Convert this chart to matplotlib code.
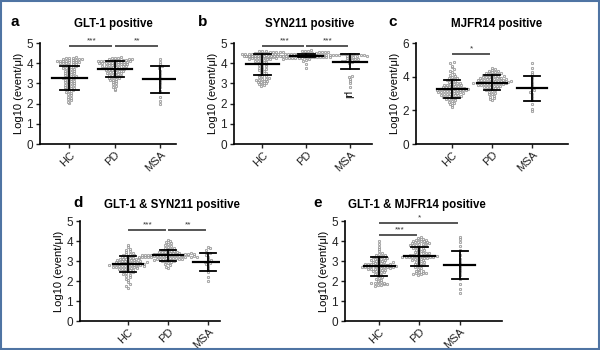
import numpy as np
import matplotlib
matplotlib.use('Agg')
import matplotlib.pyplot as plt
from matplotlib.patches import Rectangle

plt.rcParams['font.family'] = ['Liberation Sans', 'DejaVu Sans']

grupos = ['HC', 'PD', 'MSA']

# ---- datos (Log10 event/μl) ----
hc_a = [2.05, 2.1, 2.18, 2.22, 2.3, 2.35, 2.42, 2.48, 2.52, 2.58,
        2.62, 2.65, 2.7, 2.72, 2.75, 2.78, 2.8, 2.84, 2.88, 2.9,
        2.93, 2.96, 3.0, 3.02, 3.05, 3.08, 3.1, 3.13, 3.16, 3.2,
        3.22, 3.25, 3.28, 3.3, 3.32, 3.35, 3.38, 3.4, 3.43, 3.46,
        3.5, 3.52, 3.55, 3.58, 3.6, 3.63, 3.66, 3.7, 3.72, 3.75,
        3.78, 3.8, 3.83, 3.86, 3.88, 3.9, 3.92, 3.95, 3.97, 4.0,
        4.0, 4.02, 4.04, 4.05, 4.07, 4.08, 4.1, 4.1, 4.12, 4.13,
        4.15, 4.16, 4.18, 4.2, 4.2, 4.22, 4.24, 4.25, 4.28, 4.3]
pd_a = [2.65, 2.72, 2.8, 2.88, 2.95, 3.0, 3.05, 3.1, 3.15, 3.18,
        3.22, 3.25, 3.28, 3.3, 3.32, 3.35, 3.38, 3.4, 3.42, 3.45,
        3.47, 3.5, 3.52, 3.54, 3.56, 3.58, 3.6, 3.62, 3.64, 3.65,
        3.67, 3.68, 3.7, 3.72, 3.73, 3.75, 3.76, 3.78, 3.8, 3.81,
        3.83, 3.84, 3.86, 3.87, 3.88, 3.9, 3.91, 3.92, 3.94, 3.95,
        3.96, 3.98, 3.99, 4.0, 4.01, 4.02, 4.03, 4.04, 4.05, 4.06,
        4.07, 4.08, 4.09, 4.1, 4.1, 4.11, 4.12, 4.13, 4.14, 4.15,
        4.16, 4.17, 4.18, 4.2, 4.21, 4.22, 4.24, 4.26, 4.28, 4.3]
msa_a = [2.0, 2.15, 2.35, 2.6, 2.8, 2.95, 3.05, 3.15, 3.3, 3.45,
         3.6, 3.75, 3.85, 3.95, 4.05, 4.2]

hc_b = [2.85, 2.9, 2.95, 3.0, 3.02, 3.05, 3.08, 3.1, 3.12, 3.15,
        3.18, 3.2, 3.22, 3.25, 3.3, 3.35, 3.4, 3.45, 3.5, 3.55,
        3.6, 3.65, 3.7, 3.75, 3.8, 3.85, 3.9, 3.95, 4.0, 4.05,
        4.08, 4.1, 4.12, 4.15, 4.18, 4.2, 4.22, 4.24, 4.25, 4.27,
        4.28, 4.3, 4.31, 4.32, 4.33, 4.35, 4.36, 4.37, 4.38, 4.4,
        4.4, 4.41, 4.42, 4.43, 4.44, 4.45, 4.45, 4.46, 4.47, 4.48,
        4.48, 4.49, 4.5, 4.5, 4.51, 4.52, 4.53, 4.54, 4.55, 4.56,
        4.57, 4.58, 4.59, 4.6, 4.35, 4.28, 4.2, 3.98, 3.72, 3.35]
pd_b = [3.75, 3.95, 4.1, 4.15, 4.2, 4.22, 4.24, 4.25, 4.26, 4.27,
        4.28, 4.28, 4.29, 4.3, 4.3, 4.31, 4.31, 4.32, 4.32, 4.33,
        4.33, 4.34, 4.34, 4.35, 4.35, 4.35, 4.36, 4.36, 4.36, 4.37,
        4.37, 4.37, 4.38, 4.38, 4.38, 4.38, 4.39, 4.39, 4.39, 4.4,
        4.4, 4.4, 4.4, 4.41, 4.41, 4.41, 4.42, 4.42, 4.42, 4.43,
        4.43, 4.43, 4.44, 4.44, 4.45, 4.45, 4.45, 4.46, 4.46, 4.47,
        4.47, 4.48, 4.48, 4.49, 4.5, 4.5, 4.51, 4.52, 4.53, 4.54,
        4.55, 4.56, 4.58, 4.6, 4.62, 4.65, 4.34, 4.39, 4.41, 4.36]
msa_b = [2.8, 3.0, 3.1, 3.2, 3.3, 3.35, 4.0, 4.05, 4.1, 4.1,
         4.15, 4.15, 4.2, 4.2, 4.25, 4.25, 4.3, 4.35, 4.4, 4.45]

hc_c = [2.2, 2.3, 2.38, 2.45, 2.5, 2.55, 2.6, 2.65, 2.7, 2.72,
        2.75, 2.78, 2.8, 2.82, 2.85, 2.87, 2.9, 2.92, 2.94, 2.96,
        2.98, 3.0, 3.02, 3.04, 3.06, 3.08, 3.1, 3.12, 3.14, 3.15,
        3.16, 3.18, 3.2, 3.2, 3.22, 3.24, 3.25, 3.26, 3.28, 3.3,
        3.3, 3.32, 3.34, 3.35, 3.36, 3.38, 3.4, 3.42, 3.44, 3.46,
        3.48, 3.5, 3.52, 3.55, 3.58, 3.6, 3.63, 3.66, 3.7, 3.74,
        3.78, 3.82, 3.86, 3.9, 3.95, 4.0, 4.05, 4.1, 4.18, 4.25,
        4.35, 4.45, 4.55, 4.65, 4.8, 4.9, 3.18, 3.28, 3.05, 2.88]
pd_c = [2.6, 2.68, 2.75, 2.82, 2.88, 2.95, 3.0, 3.05, 3.1, 3.14,
        3.18, 3.22, 3.25, 3.28, 3.3, 3.33, 3.36, 3.38, 3.4, 3.42,
        3.45, 3.47, 3.5, 3.52, 3.54, 3.56, 3.58, 3.6, 3.62, 3.63,
        3.64, 3.65, 3.66, 3.67, 3.68, 3.7, 3.71, 3.72, 3.74, 3.75,
        3.76, 3.78, 3.8, 3.82, 3.84, 3.86, 3.88, 3.9, 3.92, 3.94,
        3.96, 3.98, 4.0, 4.02, 4.04, 4.06, 4.08, 4.1, 4.12, 4.14,
        4.16, 4.18, 4.2, 4.22, 4.25, 4.28, 4.3, 4.33, 4.36, 4.4,
        4.45, 4.5, 3.55, 3.6, 3.7, 3.73, 3.79, 3.85, 3.95, 4.05]
msa_c = [1.95, 2.1, 2.4, 2.6, 2.8, 2.95, 3.1, 3.2, 3.3, 3.45,
         3.55, 3.7, 3.85, 4.0, 4.15, 4.3, 4.5, 4.8]

hc_d = [1.65, 1.75, 1.85, 1.95, 2.05, 2.12, 2.18, 2.24, 2.3, 2.35,
        2.4, 2.43, 2.46, 2.5, 2.52, 2.55, 2.58, 2.6, 2.62, 2.64,
        2.66, 2.68, 2.7, 2.72, 2.74, 2.75, 2.77, 2.79, 2.8, 2.82,
        2.83, 2.85, 2.86, 2.88, 2.89, 2.9, 2.92, 2.93, 2.95, 2.96,
        2.98, 3.0, 3.01, 3.03, 3.05, 3.06, 3.08, 3.1, 3.12, 3.14,
        3.16, 3.18, 3.2, 3.22, 3.25, 3.28, 3.3, 3.33, 3.36, 3.4,
        3.45, 3.5, 3.55, 3.6, 3.7, 3.8, 2.87, 2.91, 2.84, 2.78,
        2.71, 2.97, 3.02, 2.65, 2.57, 3.09, 2.94, 2.81, 2.76, 3.15]
pd_d = [2.65, 2.72, 2.78, 2.84, 2.9, 2.94, 2.98, 3.0, 3.03, 3.05,
        3.07, 3.09, 3.1, 3.12, 3.14, 3.15, 3.16, 3.18, 3.19, 3.2,
        3.21, 3.22, 3.23, 3.24, 3.25, 3.26, 3.27, 3.28, 3.28, 3.29,
        3.3, 3.3, 3.31, 3.32, 3.33, 3.34, 3.35, 3.36, 3.37, 3.38,
        3.39, 3.4, 3.42, 3.43, 3.45, 3.46, 3.48, 3.5, 3.52, 3.54,
        3.56, 3.58, 3.6, 3.63, 3.66, 3.7, 3.75, 3.8, 3.85, 3.9,
        3.95, 4.0, 4.05, 3.26, 3.24, 3.22, 3.31, 3.33, 3.29, 3.18,
        3.13, 3.35, 3.41, 3.08, 3.02, 3.44, 3.27, 3.2, 3.36, 3.11]
msa_d = [2.0, 2.2, 2.45, 2.55, 2.65, 2.75, 2.85, 2.9, 2.95, 3.0,
         3.05, 3.1, 3.2, 3.3, 3.4, 3.55, 3.65, 3.7]

hc_e = [1.75, 1.78, 1.82, 1.85, 1.88, 1.9, 1.93, 1.96, 2.0, 2.05,
        2.1, 2.15, 2.2, 2.25, 2.3, 2.35, 2.4, 2.44, 2.48, 2.5,
        2.52, 2.55, 2.58, 2.6, 2.62, 2.64, 2.66, 2.68, 2.7, 2.7,
        2.72, 2.73, 2.75, 2.76, 2.78, 2.8, 2.81, 2.83, 2.85, 2.86,
        2.88, 2.9, 2.92, 2.94, 2.96, 2.98, 3.0, 3.02, 3.04, 3.06,
        3.08, 3.1, 3.12, 3.14, 3.16, 3.18, 3.2, 3.22, 3.25, 3.28,
        3.3, 3.35, 3.4, 3.5, 3.6, 3.7, 3.85, 4.0, 2.74, 2.71,
        2.77, 2.69, 2.82, 2.65, 2.57, 2.87, 2.93, 2.46, 1.92, 1.86]
pd_e = [2.3, 2.35, 2.4, 2.45, 2.5, 2.55, 2.6, 2.65, 2.7, 2.75,
        2.78, 2.8, 2.83, 2.86, 2.9, 2.93, 2.96, 3.0, 3.03, 3.06,
        3.08, 3.1, 3.12, 3.14, 3.16, 3.18, 3.2, 3.21, 3.22, 3.23,
        3.24, 3.25, 3.26, 3.28, 3.3, 3.32, 3.34, 3.36, 3.38, 3.4,
        3.42, 3.45, 3.48, 3.5, 3.53, 3.56, 3.6, 3.63, 3.66, 3.7,
        3.72, 3.74, 3.76, 3.78, 3.8, 3.82, 3.84, 3.86, 3.88, 3.9,
        3.92, 3.94, 3.96, 3.98, 4.0, 4.02, 4.05, 4.08, 4.1, 4.15,
        4.2, 3.22, 3.19, 3.27, 2.38, 2.42, 2.33, 2.52, 3.97, 4.03]
msa_e = [1.4, 1.6, 1.85, 2.1, 2.3, 2.45, 2.55, 2.65, 2.75, 2.85,
         2.95, 3.1, 3.3, 3.55, 3.75, 3.95, 4.1, 4.2]

media_a, de_a = [3.28, 3.70, 3.20], [0.60, 0.40, 0.66]
media_b, de_b = [3.95, 4.38, 4.08], [0.52, 0.08, 0.39]
media_c, de_c = [3.27, 3.65, 3.30], [0.55, 0.43, 0.72]
media_d, de_d = [2.85, 3.28, 2.95], [0.40, 0.28, 0.43]
media_e, de_e = [2.73, 3.23, 2.78], [0.46, 0.47, 0.70]

# comparaciones: (grupo1, grupo2, altura, estrellas)
sig_a = [(0, 1, 4.85, '***'), (1, 2, 4.85, '**')]
sig_b = [(0, 1, 4.85, '***'), (1, 2, 4.85, '***')]
sig_c = [(0, 1, 5.35, '*')]
sig_d = [(0, 1, 4.55, '***'), (1, 2, 4.55, '**')]
sig_e = [(0, 2, 4.9, '*'), (0, 1, 4.3, '***')]

paneles = [
    dict(letra='a', titulo='GLT-1 positive', datos=[hc_a, pd_a, msa_a], media=media_a, de=de_a,
         sig=sig_a, ymax=5, yticks=[0, 1, 2, 3, 4, 5], px=(40, 176, 43, 144), xlim=(-0.65, 2.35),
         pos_letra=(15, 22), pos_titulo=(113, 24)),
    dict(letra='b', titulo='SYN211 positive', datos=[hc_b, pd_b, msa_b], media=media_b, de=de_b,
         sig=sig_b, ymax=5, yticks=[0, 1, 2, 3, 4, 5], px=(234, 372, 43, 144), xlim=(-0.65, 2.5),
         pos_letra=(203, 22), pos_titulo=(310, 24)),
    dict(letra='c', titulo='MJFR14 positive', datos=[hc_c, pd_c, msa_c], media=media_c, de=de_c,
         sig=sig_c, ymax=6, yticks=[0, 2, 4, 6], px=(416, 568, 43, 144), xlim=(-0.9, 2.9),
         pos_letra=(393, 22), pos_titulo=(497, 24)),
    dict(letra='d', titulo='GLT-1 & SYN211 positive', datos=[hc_d, pd_d, msa_d], media=media_d, de=de_d,
         sig=sig_d, ymax=5, yticks=[0, 1, 2, 3, 4, 5], px=(80, 220, 221, 321), xlim=(-1.2, 2.3),
         pos_letra=(78, 203), pos_titulo=(172, 205)),
    dict(letra='e', titulo='GLT-1 & MJFR14 positive', datos=[hc_e, pd_e, msa_e], media=media_e, de=de_e,
         sig=sig_e, ymax=5, yticks=[0, 1, 2, 3, 4, 5], px=(345, 502, 221, 321), xlim=(-0.85, 3.05),
         pos_letra=(318, 203), pos_titulo=(417, 205)),
]

W, H = 600, 350
fig = plt.figure(figsize=(6, 3.5), dpi=100)


def enjambre(vals, alto_bin, dx):
    # reparte horizontalmente los puntos que caen en la misma fila
    vals = np.asarray(vals, dtype=float)
    filas = np.round(vals / alto_bin).astype(int)
    offs = np.zeros(len(vals))
    for f in np.unique(filas):
        idx = np.where(filas == f)[0]
        n = len(idx)
        offs[idx] = (np.arange(n) - (n - 1) / 2) * dx
    return offs


for p in paneles:
    x0, x1, ytop, ybot = p['px']
    ax = fig.add_axes([x0 / W, (H - ybot) / H, (x1 - x0) / W, (ybot - ytop) / H])
    ax.set_xlim(*p['xlim'])
    ax.set_ylim(0, p['ymax'])
    ppu_x = (x1 - x0) / (p['xlim'][1] - p['xlim'][0])
    ppu_y = (ybot - ytop) / p['ymax']
    for i, vals in enumerate(p['datos']):
        off = enjambre(vals, 2.4 / ppu_y, 3.1 / ppu_x)
        ax.scatter(i + off, vals, s=3, facecolors='#f2f2f2', edgecolors='#8a8a8a',
                   linewidths=0.5, zorder=2, clip_on=False)
        m, s = p['media'][i], p['de'][i]
        ax.plot([i - 0.38, i + 0.38], [m, m], color='black', lw=1.6, zorder=3)
        ax.plot([i, i], [m - s, m + s], color='black', lw=1.3, zorder=3)
        for yy in (m - s, m + s):
            ax.plot([i - 0.2, i + 0.2], [yy, yy], color='black', lw=1.3, zorder=3)
    for g1, g2, yy, txt in p['sig']:
        ax.plot([g1 + 0.02, g2 - 0.08], [yy, yy], color='#555555', lw=1.4, clip_on=False)
        ax.text((g1 + g2) / 2, yy + 0.08 * p['ymax'] / 5, txt, ha='center', va='bottom',
                fontsize=6, color='#333333')
    ax.spines['top'].set_visible(False)
    ax.spines['right'].set_visible(False)
    ax.spines['left'].set_linewidth(1.2)
    ax.spines['bottom'].set_linewidth(1.2)
    ax.set_yticks(p['yticks'])
    ax.set_xticks(range(3))
    ax.set_xticklabels(grupos, rotation=45, ha='right', rotation_mode='anchor')
    ax.tick_params(axis='y', labelsize=8.5, length=3, width=1, pad=2, colors='#222222')
    ax.tick_params(axis='x', labelsize=8, length=3, width=1, pad=1, colors='#222222')
    ax.set_ylabel('Log10 (event/μl)', fontsize=8, labelpad=2)
    fig.text(p['pos_titulo'][0] / W, (H - p['pos_titulo'][1]) / H, p['titulo'], fontsize=8.3,
             fontweight='bold', ha='center', va='center')
    fig.text(p['pos_letra'][0] / W, (H - p['pos_letra'][1]) / H, p['letra'], fontsize=11,
             fontweight='bold', ha='center', va='center')

# resto de etiqueta suelta en el panel b
fig.text(347 / W, (H - 95) / H, 'μl', fontsize=7, rotation=-90, ha='center', va='center')

fig.patches.append(Rectangle((0.002, 0.003), 0.996, 0.994, transform=fig.transFigure,
                             fill=False, edgecolor='#4f74a3', lw=1.5))

plt.savefig('out.png', dpi=100)
plt.close()
